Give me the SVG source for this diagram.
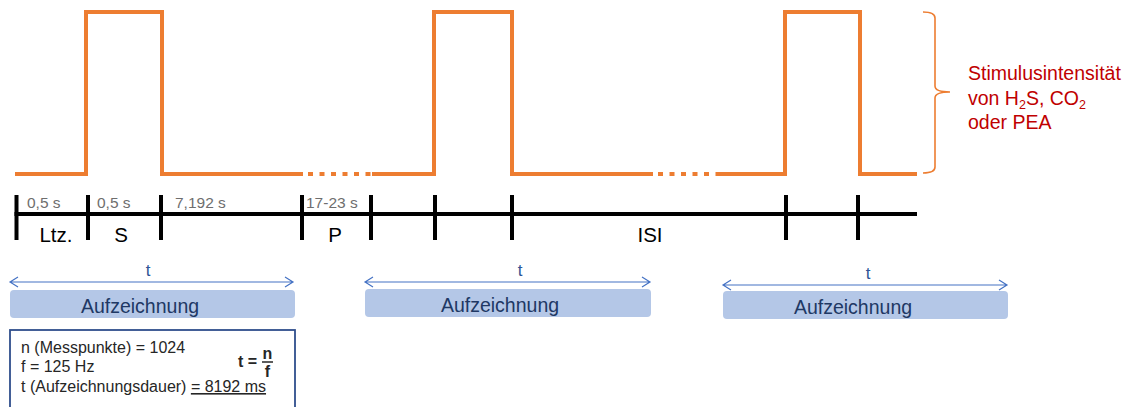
<svg xmlns="http://www.w3.org/2000/svg" width="1127" height="407" viewBox="0 0 1127 407">
  <style>
    .wave { fill: none; stroke: #ED7D31; stroke-width: 4; }
    .dots { fill: none; stroke: #ED7D31; stroke-width: 4; stroke-dasharray: 5 6.5; }
    .brace { fill: none; stroke: #ED7D31; stroke-width: 1.6; }
    .axis { stroke: #000; stroke-width: 4; fill: none; }
    .dur { font-family: "Liberation Sans", Arial, sans-serif; font-size: 15.5px; fill: #6E6E6E; }
    .phase { font-family: "Liberation Sans", Arial, sans-serif; font-size: 20.5px; fill: #000; text-anchor: middle; }
    .stim { font-family: "Liberation Sans", Arial, sans-serif; font-size: 19.5px; fill: #C00000; }
    .span { stroke: #4472C4; stroke-width: 1.2; fill: none; }
    .tlab { font-family: "Liberation Sans", Arial, sans-serif; font-size: 17px; fill: #2F5597; text-anchor: middle; }
    .rec { fill: #B4C7E7; }
    .reclab { font-family: "Liberation Sans", Arial, sans-serif; font-size: 19.5px; fill: #203864; text-anchor: middle; }
    .info { font-family: "Liberation Sans", Arial, sans-serif; font-size: 16px; fill: #262626; }
    .bold { font-weight: bold; }
  </style>

  <!-- stimulus waveform -->
  <g id="waveform">
    <polyline class="wave" points="15,174 86,174 86,12 162,12 162,174 303,174"/>
    <line class="dots" x1="308" y1="174" x2="372" y2="174"/>
    <polyline class="wave" points="372,174 434,174 434,12 512,12 512,174 653,174"/>
    <line class="dots" x1="658" y1="174" x2="720" y2="174"/>
    <polyline class="wave" points="720,174 785,174 785,12 860,12 860,174 917,174"/>
  </g>

  <!-- intensity brace and label -->
  <g id="intensity">
    <path class="brace" d="M923,12 Q935,12 935,18 L935,86 Q935,92 950,92 Q935,92 935,98 L935,167 Q935,173 923,173"/>
    <text class="stim" x="968" y="80">Stimulusintensität</text>
    <text class="stim" x="968" y="105">von H<tspan font-size="12.5" dy="4">2</tspan><tspan dy="-4">S, CO</tspan><tspan font-size="12.5" dy="4">2</tspan></text>
    <text class="stim" x="968" y="129">oder PEA</text>
  </g>

  <!-- time axis -->
  <g id="timeline">
    <line class="axis" x1="14.5" y1="214" x2="917" y2="214"/>
    <g class="axis">
      <line x1="16.5" y1="195" x2="16.5" y2="240"/>
      <line x1="88" y1="195" x2="88" y2="240"/>
      <line x1="161" y1="195" x2="161" y2="240"/>
      <line x1="302" y1="195" x2="302" y2="240"/>
      <line x1="371" y1="195" x2="371" y2="240"/>
      <line x1="435" y1="195" x2="435" y2="240"/>
      <line x1="512" y1="195" x2="512" y2="240"/>
      <line x1="786" y1="195" x2="786" y2="240"/>
      <line x1="858" y1="195" x2="858" y2="240"/>
    </g>
    <text class="dur" x="27" y="208">0,5 s</text>
    <text class="dur" x="97" y="208">0,5 s</text>
    <text class="dur" x="175" y="208">7,192 s</text>
    <text class="dur" x="306" y="208">17-23 s</text>
    <text class="phase" x="56" y="242">Ltz.</text>
    <text class="phase" x="121" y="242">S</text>
    <text class="phase" x="335" y="242">P</text>
    <text class="phase" x="650" y="242">ISI</text>
  </g>

  <!-- recording windows -->
  <g id="recording-1">
    <path class="span" d="M10,282 L293,282 M18,277 L10,282 L18,287 M285,277 L293,282 L285,287"/>
    <text class="tlab" x="148" y="276">t</text>
    <rect class="rec" x="10" y="290" width="285" height="28" rx="4"/>
    <text class="reclab" x="140" y="313">Aufzeichnung</text>
  </g>
  <g id="recording-2">
    <path class="span" d="M365,282 L650,282 M373,277 L365,282 L373,287 M642,277 L650,282 L642,287"/>
    <text class="tlab" x="520" y="276">t</text>
    <rect class="rec" x="365" y="289" width="286" height="28" rx="4"/>
    <text class="reclab" x="500" y="312">Aufzeichnung</text>
  </g>
  <g id="recording-3">
    <path class="span" d="M723,285 L1007,285 M731,280 L723,285 L731,290 M999,280 L1007,285 L999,290"/>
    <text class="tlab" x="868" y="279">t</text>
    <rect class="rec" x="723" y="291" width="285" height="28" rx="4"/>
    <text class="reclab" x="853" y="314">Aufzeichnung</text>
  </g>

  <!-- parameter box -->
  <g id="parameters">
    <rect x="10" y="330" width="285" height="90" fill="#fff" stroke="#2F4E8C" stroke-width="1.8"/>
    <text class="info" x="21" y="353">n (Messpunkte) = 1024</text>
    <text class="info" x="21" y="372">f = 125 Hz</text>
    <text class="info" x="21" y="392">t (Aufzeichnungsdauer)  <tspan text-decoration="underline">= 8192 ms</tspan></text>
    <text class="info bold" x="238" y="367">t =</text>
    <text class="info bold" x="267.5" y="359" text-anchor="middle">n</text>
    <line x1="262" y1="362" x2="273" y2="362" stroke="#262626" stroke-width="1.5"/>
    <text class="info bold" x="267.5" y="377" text-anchor="middle">f</text>
  </g>
</svg>
